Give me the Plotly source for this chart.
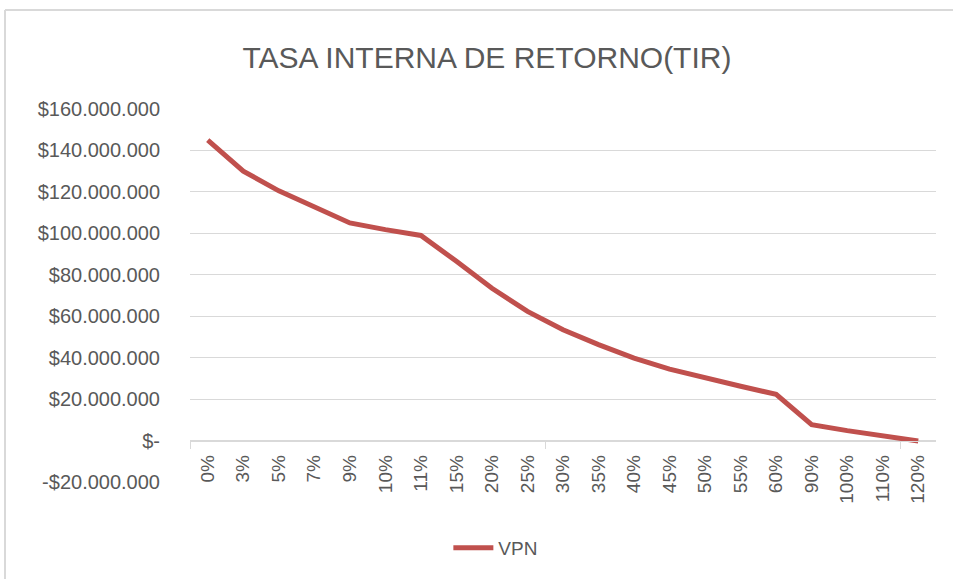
import plotly.graph_objects as go

categories = ["0%", "3%", "5%", "7%", "9%", "10%", "11%", "15%", "20%", "25%", "30%",
              "35%", "40%", "45%", "50%", "55%", "60%", "90%", "100%", "110%", "120%"]
vpn = [145000000, 130000000, 120500000, 112500000, 105000000, 101800000, 99000000,
       86500000, 73500000, 62300000, 53500000, 46300000, 39800000, 34500000, 30200000,
       26200000, 22300000, 7700000, 4800000, 2100000, -200000]
y_tickvals = [-20000000, 0, 20000000, 40000000, 60000000, 80000000, 100000000,
              120000000, 140000000, 160000000]
y_ticktext = ["-$20.000.000", "$-", "$20.000.000", "$40.000.000", "$60.000.000",
              "$80.000.000", "$100.000.000", "$120.000.000", "$140.000.000", "$160.000.000"]
series_name = "VPN"
title_text = "TASA INTERNA DE RETORNO(TIR)"

FONT = "Liberation Sans"
TXT = "#595959"
GRID = "#d9d9d9"

fig = go.Figure()
fig.add_trace(go.Scatter(
    x=categories, y=vpn, mode="lines", name=series_name,
    line=dict(color="#C0504D", width=5),
))
# invisible helper trace for tick-mark axis
fig.add_trace(go.Scatter(x=[-0.5, len(categories) - 0.5], y=[0, 0], xaxis="x2",
                         mode="lines", line=dict(width=0), showlegend=False,
                         hoverinfo="skip"))

fig.update_layout(
    width=953, height=579,
    margin=dict(l=190, r=17, t=109, b=97),
    paper_bgcolor="white", plot_bgcolor="white",
    font=dict(family=FONT, color=TXT, size=20),
    title=dict(text=title_text, x=0.511, xanchor="center", y=1 - 57 / 579,
               yanchor="middle", yref="container",
               font=dict(family=FONT, size=30, color=TXT)),
    showlegend=True,
    legend=dict(orientation="h", x=0.41, xanchor="center", y=-0.177, yanchor="middle",
                font=dict(family=FONT, size=19, color=TXT), bgcolor="rgba(0,0,0,0)",
                itemwidth=40),
    xaxis=dict(
        type="category", anchor="free", position=1 / 9,
        showgrid=False, showline=True, linecolor=GRID, linewidth=1,
        tickangle=-90, ticks="", ticklabelstandoff=6,
        tickfont=dict(family=FONT, size=19, color=TXT),
        range=[-0.5, len(categories) - 0.5], zeroline=False,
    ),
    xaxis2=dict(
        overlaying="x", anchor="free", position=1 / 9, side="bottom",
        range=[-0.5, len(categories) - 0.5],
        tickvals=[-0.5, 9.5, 19.5], ticktext=["", "", ""],
        ticks="outside", ticklen=7, tickcolor=GRID, tickwidth=1,
        showgrid=False, showline=False, zeroline=False, showticklabels=False,
    ),
    yaxis=dict(
        range=[-20000000, 160000000], tickvals=y_tickvals, ticktext=y_ticktext,
        showgrid=True, gridcolor=GRID, gridwidth=1, zeroline=False,
        showline=False, ticks="", ticklabelstandoff=29,
        tickfont=dict(family=FONT, size=20, color=TXT),
    ),
    shapes=[
        dict(type="line", xref="paper", yref="paper", x0=(5 - 190) / 746, x1=(953 - 190) / 746,
             y0=(482 - 10) / 373, y1=(482 - 10) / 373, line=dict(color="#d9d9d9", width=2)),
        dict(type="line", xref="paper", yref="paper", x0=(5 - 190) / 746, x1=(5 - 190) / 746,
             y0=(482 - 10) / 373, y1=(482 - 579) / 373, line=dict(color="#d9d9d9", width=2)),
    ],
)

fig.write_html("out.html", config={"displayModeBar": False},
               post_script="document.body.style.margin='0';document.body.style.overflow='hidden';")
